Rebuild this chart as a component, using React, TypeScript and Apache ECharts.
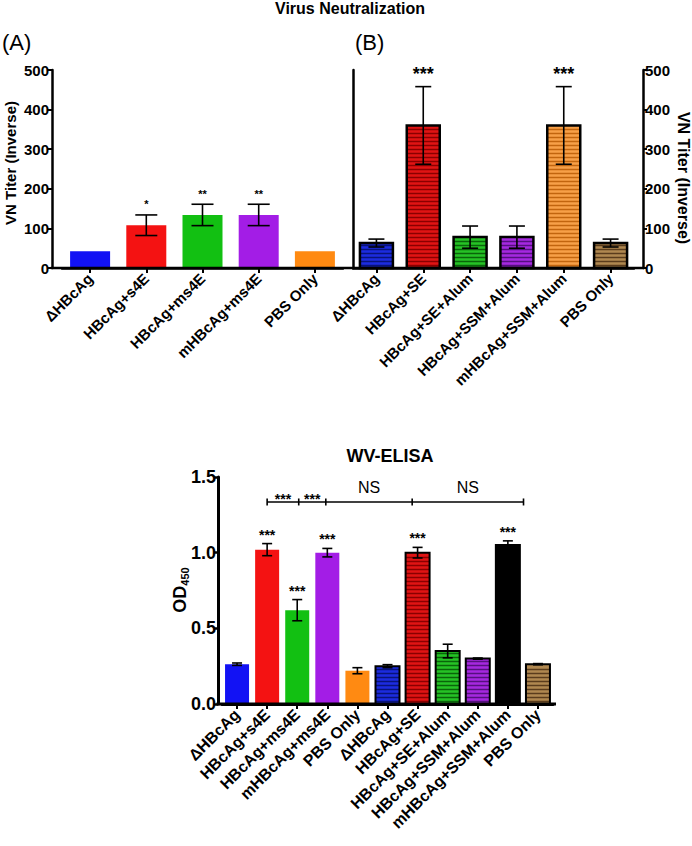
import React, { useEffect, useRef } from 'react';
import * as echarts from 'echarts';

// ---------- data ----------
const catsA = ['ΔHBcAg', 'HBcAg+s4E', 'HBcAg+ms4E', 'mHBcAg+ms4E', 'PBS Only'];
const meanA = [42, 108, 134, 134, 42];
const errA = [0, 26, 27, 27, 0];
const starsA = ['', '*', '**', '**', ''];

const catsB = ['ΔHBcAg', 'HBcAg+SE', 'HBcAg+SE+Alum', 'HBcAg+SSM+Alum', 'mHBcAg+SSM+Alum', 'PBS Only'];
const meanB = [63, 360, 78, 78, 360, 63];
const errB = [10, 98, 28, 28, 98, 10];
const starsB = ['', '***', '', '', '***', ''];

const catsC = ['ΔHBcAg', 'HBcAg+s4E', 'HBcAg+ms4E', 'mHBcAg+ms4E', 'PBS Only', 'ΔHBcAg', 'HBcAg+SE', 'HBcAg+SE+Alum', 'HBcAg+SSM+Alum', 'mHBcAg+SSM+Alum', 'PBS Only'];
const meanC = [0.263, 1.02, 0.62, 1.0, 0.22, 0.25, 1.0, 0.35, 0.3, 1.05, 0.263];
const errC = [0.008, 0.04, 0.07, 0.028, 0.02, 0.01, 0.035, 0.045, 0.004, 0.028, 0.004];
const starsC = ['', '***', '***', '***', '', '', '***', '', '', '***', ''];
const bracketTicks = [1, 2.05, 2.95, 5.82, 9.52];
const bracketLabels = ['***', '***', 'NS', 'NS'];
const bracketValue = 1.335;

// ---------- styles ----------
const FONT = '"Liberation Sans", Arial, Helvetica, sans-serif';
const plainColors = ['#1212f4', '#f41212', '#12c012', '#a31de6', '#ff8a12'];
const stripeFills = ['#1c2ce0', '#e01414', '#26c226', '#a628e0', '#f7a048', '#b08850'];
const stripeLines = ['#08137a', '#8a0000', '#0a640a', '#55107f', '#c2650e', '#5a3c1c'];
const fillsC = [...plainColors, stripeFills[0], stripeFills[1], stripeFills[2], stripeFills[3], '#000000', stripeFills[5]];
const linesC = [null, null, null, null, null, stripeLines[0], stripeLines[1], stripeLines[2], stripeLines[3], null, stripeLines[5]];
const borderC = [0, 0, 0, 0, 0, 2, 2, 2, 2, 2, 2];

function barItem(barW: number, fills: any[], lines: any[], borders: number[]) {
  return (params: any, api: any) => {
    const i = api.value(0);
    const v = api.value(1);
    const p0 = api.coord([i, 0]);
    const p1 = api.coord([i, v]);
    const x = p0[0] - barW / 2;
    const y = p1[1];
    const h = p0[1] - p1[1];
    const lw = borders[i];
    const children: any[] = [
      { type: 'rect', shape: { x, y, width: barW, height: h }, style: { fill: fills[i] } },
    ];
    if (lines[i]) {
      for (let yy = p0[1] - 2.5; yy > y + 2; yy -= 4) {
        children.push({
          type: 'line',
          shape: { x1: x, y1: yy, x2: x + barW, y2: yy },
          style: { stroke: lines[i], lineWidth: 1.5 },
        });
      }
    }
    if (lw > 0) {
      children.push({
        type: 'rect',
        shape: { x, y, width: barW, height: h },
        style: { fill: 'none', stroke: '#000', lineWidth: lw },
      });
    }
    return { type: 'group', children };
  };
}

function errItem(capW: number, fontSize: number, gap: number, stars: string[]) {
  return (params: any, api: any) => {
    const i = api.value(0);
    const m = api.value(1);
    const e = api.value(2);
    const hi = api.coord([i, m + e]);
    const lo = api.coord([i, m - e]);
    const x = hi[0];
    const children: any[] = [];
    if (e > 0) {
      const st = { stroke: '#000', lineWidth: 1.6 };
      children.push({ type: 'line', shape: { x1: x, y1: hi[1], x2: x, y2: lo[1] }, style: st });
      children.push({ type: 'line', shape: { x1: x - capW / 2, y1: hi[1], x2: x + capW / 2, y2: hi[1] }, style: st });
      children.push({ type: 'line', shape: { x1: x - capW / 2, y1: lo[1], x2: x + capW / 2, y2: lo[1] }, style: st });
    }
    if (stars[i]) {
      children.push({
        type: 'text',
        style: {
          x, y: hi[1] - gap, text: stars[i], align: 'center', verticalAlign: 'middle',
          font: `bold ${fontSize}px ${FONT}`, fill: '#000',
        },
      });
    }
    return { type: 'group', children };
  };
}

function bracketItem(params: any, api: any) {
  const pos = (v: number) => {
    const f = Math.floor(v);
    const a = api.coord([f, bracketValue]);
    const b = api.coord([f + 1, bracketValue]);
    return [a[0] + (v - f) * (b[0] - a[0]), a[1]];
  };
  const pts = bracketTicks.map(pos);
  const y = pts[0][1];
  const st = { stroke: '#000', lineWidth: 1.6 };
  const children: any[] = [
    { type: 'line', shape: { x1: pts[0][0], y1: y, x2: pts[pts.length - 1][0], y2: y }, style: st },
  ];
  pts.forEach((p) => {
    children.push({ type: 'line', shape: { x1: p[0], y1: y - 3.5, x2: p[0], y2: y + 3.5 }, style: st });
  });
  bracketLabels.forEach((t, k) => {
    const cx = (pts[k][0] + pts[k + 1][0]) / 2;
    const isStar = t.indexOf('*') >= 0;
    children.push({
      type: 'text',
      style: {
        x: cx, y: isStar ? y - 3 : y - 14, text: t, align: 'center', verticalAlign: 'middle',
        font: isStar ? `bold 14px ${FONT}` : `16px ${FONT}`, fill: '#000',
      },
    });
  });
  return { type: 'group', children };
}

const axisLineStyle = (w: number) => ({ show: true, lineStyle: { color: '#000', width: w } });

function catAxis(gridIndex: number, data: string[], fontSize: number, lw: number) {
  return {
    type: 'category', gridIndex, data,
    axisLine: axisLineStyle(lw),
    axisTick: { show: true, alignWithLabel: true, length: 5, lineStyle: { color: '#000', width: 2 } },
    axisLabel: { interval: 0, rotate: 45, margin: 8, color: '#000', fontWeight: 'bold', fontSize, fontFamily: FONT },
    splitLine: { show: false },
  };
}

const option: any = {
  animation: false,
  backgroundColor: '#fff',
  grid: [
    { left: 62, top: 70, width: 281, height: 198 },
    { left: 353, top: 70, width: 281, height: 198 },
    { left: 222, top: 477, width: 331, height: 227 },
  ],
  xAxis: [
    catAxis(0, catsA, 15, 2.5),
    catAxis(1, catsB, 15, 2.5),
    catAxis(2, catsC, 16, 3),
  ],
  yAxis: [
    {
      type: 'value', gridIndex: 0, min: 0, max: 500, interval: 100, offset: 10,
      axisLine: axisLineStyle(2.5),
      axisTick: { show: true, length: 4, lineStyle: { color: '#000', width: 2 } },
      axisLabel: { margin: 3, color: '#000', fontWeight: 'bold', fontSize: 15, fontFamily: FONT },
      splitLine: { show: false },
    },
    {
      type: 'value', gridIndex: 1, min: 0, max: 500, interval: 100, position: 'left',
      axisLine: axisLineStyle(2.5),
      axisTick: { show: false }, axisLabel: { show: false }, splitLine: { show: false },
    },
    {
      type: 'value', gridIndex: 1, min: 0, max: 500, interval: 100, position: 'right', offset: 9,
      axisLine: axisLineStyle(2.5),
      axisTick: { show: true, length: 4, lineStyle: { color: '#000', width: 2 } },
      axisLabel: { margin: 2, color: '#000', fontWeight: 'bold', fontSize: 15, fontFamily: FONT },
      splitLine: { show: false },
    },
    {
      type: 'value', gridIndex: 2, min: 0, max: 1.5, interval: 0.5, offset: 4,
      axisLine: axisLineStyle(3),
      axisTick: { show: true, length: 4, lineStyle: { color: '#000', width: 2.5 } },
      axisLabel: { margin: 2, color: '#000', fontWeight: 'bold', fontSize: 18, fontFamily: FONT, formatter: (v: number) => v.toFixed(1) },
      splitLine: { show: false },
    },
  ],
  series: [
    {
      type: 'custom', xAxisIndex: 0, yAxisIndex: 0, renderItem: barItem(40, plainColors, [null, null, null, null, null], [0, 0, 0, 0, 0]),
      data: meanA.map((v, i) => [i, v]), encode: { x: 0, y: 1 }, z: 2,
    },
    {
      type: 'custom', xAxisIndex: 0, yAxisIndex: 0, renderItem: errItem(22, 11, 10.5, starsA),
      data: meanA.map((v, i) => [i, v, errA[i]]), encode: { x: 0, y: 1 }, z: 3,
    },
    {
      type: 'custom', xAxisIndex: 1, yAxisIndex: 2, renderItem: barItem(33, stripeFills, stripeLines, [2.5, 2.5, 2.5, 2.5, 2.5, 2.5]),
      data: meanB.map((v, i) => [i, v]), encode: { x: 0, y: 1 }, z: 2,
    },
    {
      type: 'custom', xAxisIndex: 1, yAxisIndex: 2, renderItem: errItem(16, 18, 13, starsB),
      data: meanB.map((v, i) => [i, v, errB[i]]), encode: { x: 0, y: 1 }, z: 3,
    },
    {
      type: 'custom', xAxisIndex: 2, yAxisIndex: 3, renderItem: barItem(24, fillsC, linesC, borderC),
      data: meanC.map((v, i) => [i, v]), encode: { x: 0, y: 1 }, z: 2,
    },
    {
      type: 'custom', xAxisIndex: 2, yAxisIndex: 3, renderItem: errItem(10, 14, 9, starsC),
      data: meanC.map((v, i) => [i, v, errC[i]]), encode: { x: 0, y: 1 }, z: 3,
    },
    {
      type: 'custom', xAxisIndex: 2, yAxisIndex: 3, renderItem: bracketItem,
      data: [[0, bracketValue]], encode: { x: 0, y: 1 }, z: 3,
    },
  ],
  graphic: [
    { type: 'line', shape: { x1: 50.75, y1: 268, x2: 644.25, y2: 268 }, style: { stroke: '#000', lineWidth: 2.5 }, z: 10 },
    { type: 'line', shape: { x1: 216.5, y1: 704, x2: 556, y2: 704 }, style: { stroke: '#000', lineWidth: 3 }, z: 10 },
    { type: 'text', x: 350, y: 8, style: { text: 'Virus Neutralization', font: `bold 16px ${FONT}`, fill: '#000', align: 'center', verticalAlign: 'middle' } },
    { type: 'text', x: 2, y: 42, style: { text: '(A)', font: `22px ${FONT}`, fill: '#000', align: 'left', verticalAlign: 'middle' } },
    { type: 'text', x: 355, y: 42, style: { text: '(B)', font: `22px ${FONT}`, fill: '#000', align: 'left', verticalAlign: 'middle' } },
    { type: 'text', x: 10, y: 163, rotation: Math.PI / 2, style: { text: 'VN Titer (Inverse)', font: `bold 15px ${FONT}`, fill: '#000', align: 'center', verticalAlign: 'middle' } },
    { type: 'text', x: 683, y: 178, rotation: -Math.PI / 2, style: { text: 'VN Titer (Inverse)', font: `bold 16px ${FONT}`, fill: '#000', align: 'center', verticalAlign: 'middle' } },
    { type: 'text', x: 390, y: 456, style: { text: 'WV-ELISA', font: `bold 18px ${FONT}`, fill: '#000', align: 'center', verticalAlign: 'middle' } },
    {
      type: 'text', x: 180, y: 590, rotation: Math.PI / 2,
      style: {
        text: '{a|OD}{b|450}', align: 'center', verticalAlign: 'middle',
        rich: {
          a: { font: `bold 18px ${FONT}`, fill: '#000', lineHeight: 20 },
          b: { font: `bold 11px ${FONT}`, fill: '#000', lineHeight: 11, padding: [9, 0, 0, 0] },
        },
      },
    },
  ],
};

export default function App() {
  const ref = useRef<HTMLDivElement>(null);
  useEffect(() => {
    document.body.style.margin = '0';
    const chart = echarts.init(ref.current!, undefined, { renderer: 'svg' });
    chart.setOption(option);
    return () => chart.dispose();
  }, []);
  return <div ref={ref} style={{ width: 692, height: 846 }} />;
}
